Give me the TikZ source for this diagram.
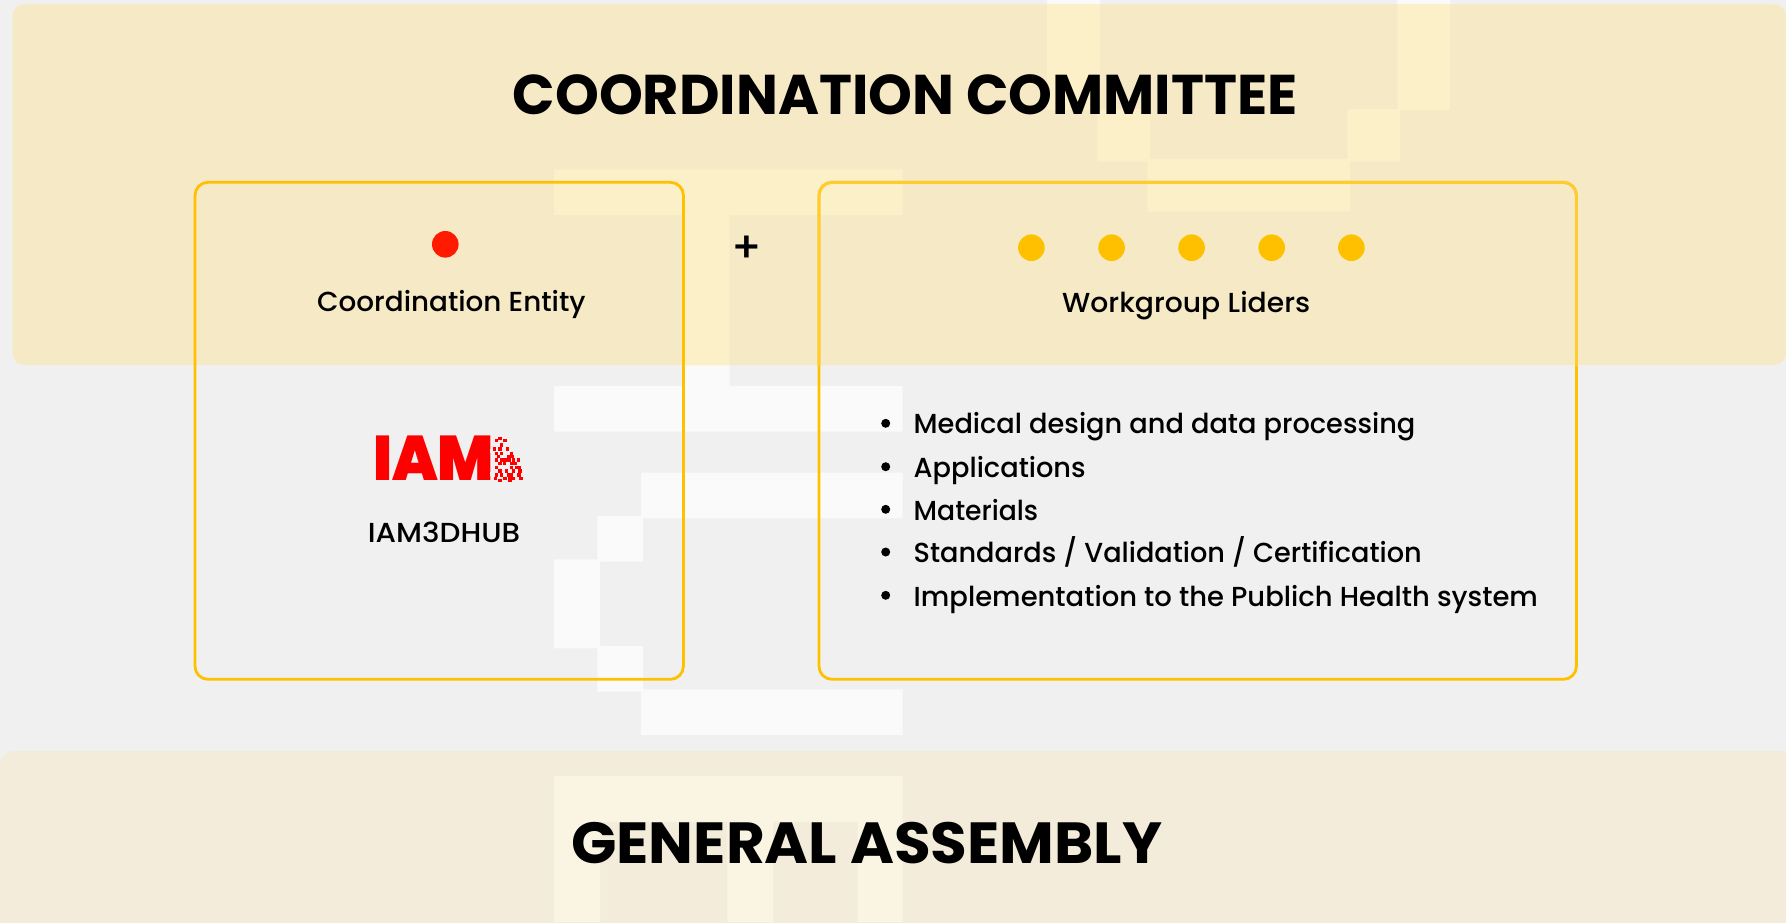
\documentclass[tikz,border=0pt]{standalone}
\usepackage{fontspec}
\usepackage{graphicx}
\setmainfont{Poppins}
\newfontfamily\medf{Poppins Medium}
\newfontfamily\logof{Poppins Black}
\definecolor{pagebg}{HTML}{F0F0F0}
\definecolor{wmbg}{HTML}{FAFAFA}
\definecolor{topband}{HTML}{F6E9C5}
\definecolor{wmtop}{HTML}{FCF0C9}
\definecolor{lowband}{HTML}{F3ECDA}
\definecolor{wmlow}{HTML}{FAF4E3}
\definecolor{gold}{HTML}{FFC000}
\definecolor{goldlight}{HTML}{FFCB2D}
\definecolor{dotred}{HTML}{FF1A00}
\definecolor{logored}{HTML}{FF0000}
\newcommand\fitw[2]{\resizebox{#1pt}{\height}{#2}}
\newcommand\wmshape{
  (554,169.3) rectangle (902.7,215)
  (683.5,215) rectangle (729.7,386)
  (554,386) rectangle (902.7,431.7)
  (641,472.7) rectangle (902.7,518.3)
  (597.4,516) rectangle (643,561.7)
  (554,559.3) rectangle (600,648.3)
  (597.4,646) rectangle (643,691.7)
  (641,689.3) rectangle (902.7,735)
  (1047,0) rectangle (1100,110)
  (1097.3,109) rectangle (1150,161.7)
  (1147.3,159) rectangle (1350,211.7)
  (1347.3,109) rectangle (1400,161.7)
  (1397.3,0) rectangle (1450,110)
}
\tikzset{
  x=1pt,y=-1pt,
  title/.style={inner sep=0pt,anchor=base west,font=\bfseries\fontsize{56}{60}\selectfont,text=black},
  body/.style={inner sep=0pt,anchor=base west,font=\medf\fontsize{27.5}{30}\selectfont,text=black},
  boxline/.style={draw=gold,line width=2.8pt,rounded corners=13pt},
  dotnode/.style={circle,inner sep=0pt,minimum size=26.6pt,fill=#1},
  bulletdot/.style={circle,inner sep=0pt,minimum size=9pt,fill=black},
}
\begin{document}
\begin{tikzpicture}
\clip (0,0) rectangle (1786,922);
\fill[pagebg] (0,0) rectangle (1786,922);
\fill[wmbg] \wmshape;
% top band
\fill[topband,rounded corners=12pt] (12.5,4.3) rectangle (1786,365);
\begin{scope}
  \clip[rounded corners=12pt] (12.5,4.3) rectangle (1786,365);
  \fill[wmtop] \wmshape;
\end{scope}
% lower band
\fill[lowband,rounded corners=14pt] (0,751) rectangle (1830,960);
\fill[wmlow] (554,776) rectangle (902.7,822)
  (554,822) rectangle (600,922)
  (727.3,822) rectangle (773,922)
  (857.7,822) rectangle (902.7,922);
% boxes
\draw[boxline] (195,182.3) rectangle (683.4,679.3);
\draw[boxline] (819,182.3) rectangle (1576.4,679.3);
\begin{scope}
  \clip (800,170) rectangle (1600,365);
  \draw[boxline,draw=goldlight] (819,182.3) rectangle (1576.4,679.3);
\end{scope}
% titles
\node[title] (ttop) at (512.5,114.5) {\fitw{785}{COORDINATION COMMITTEE}};
\node[title] (tlow) at (571,863.7) {\fontsize{58}{60}\selectfont\fitw{591}{GENERAL ASSEMBLY}};
% dots
\node[dotnode=dotred] (reddot) at (445.3,244.3) {};
\foreach \n/\x in {a/1031.4,b/1111.6,c/1191.6,d/1271.7,e/1351.4}
  \node[dotnode=gold] (wg\n) at (\x,247.7) {};
% labels
\node[body] (lce) at (317,311.7) {\fitw{268.4}{Coordination Entity}};
\node[body] (lwg) at (1062,312.7) {\fitw{248}{Workgroup Liders}};
\node[body] (liam) at (367.7,542.3) {\fitw{152.3}{IAM3DHUB}};
\node[inner sep=0pt,font=\medf\fontsize{43}{43}\selectfont] (plus) at (747.3,249.7) {+};
% list
\node[body] (i1) at (913.5,433.3) {\fitw{501.7}{Medical design and data processing}};
\node[body] (i2) at (913.5,477) {\fitw{172}{Applications}};
\node[body] (i3) at (913.5,520) {\fitw{124.5}{Materials}};
\node[body] (i4) at (913.5,562.7) {\fitw{508}{Standards / Validation / Certification}};
\node[body] (i5) at (913.5,606) {\fitw{624.2}{Implementation to the Publich Health system}};
\foreach \n/\y in {1/423.3,2/466.7,3/509.3,4/552,5/595.3}
  \node[bulletdot] (b\n) at (885.7,\y) {};
% logo
\node[inner sep=0pt,anchor=base west,text=logored,font=\logof\fontsize{63}{63}\selectfont] (logo) at (373,480.9) {\resizebox{121pt}{\height}{IAM}};
\foreach \zx/\zy in {380/78,382/112,386/125,380/147,388/100,382/160,392/90}
  \fill[pagebg] ({365+\zx/3-1.6},{425+\zy/3-1.6}) rectangle ++(3.2,3.2);
\foreach \zx/\zy in {405/40,395/47,420/47,410/60,388/72,405/72,428/72,395/85,410/85,440/85,400/95,432/95,442/95,395/105,410/105,420/105,432/105,445/105,460/105,405/115,418/115,440/115,450/115,395/127,440/127,455/127,462/127,405/138,425/138,445/138,465/138,395/150,410/150,430/150,440/150,462/150,392/160,420/160,435/160,445/160,468/160,405/166,435/166}
  \fill[logored] ({365+\zx/3-1.7},{425+\zy/3-1.7}) rectangle ++(3.4,3.4);
\end{tikzpicture}
\end{document}
